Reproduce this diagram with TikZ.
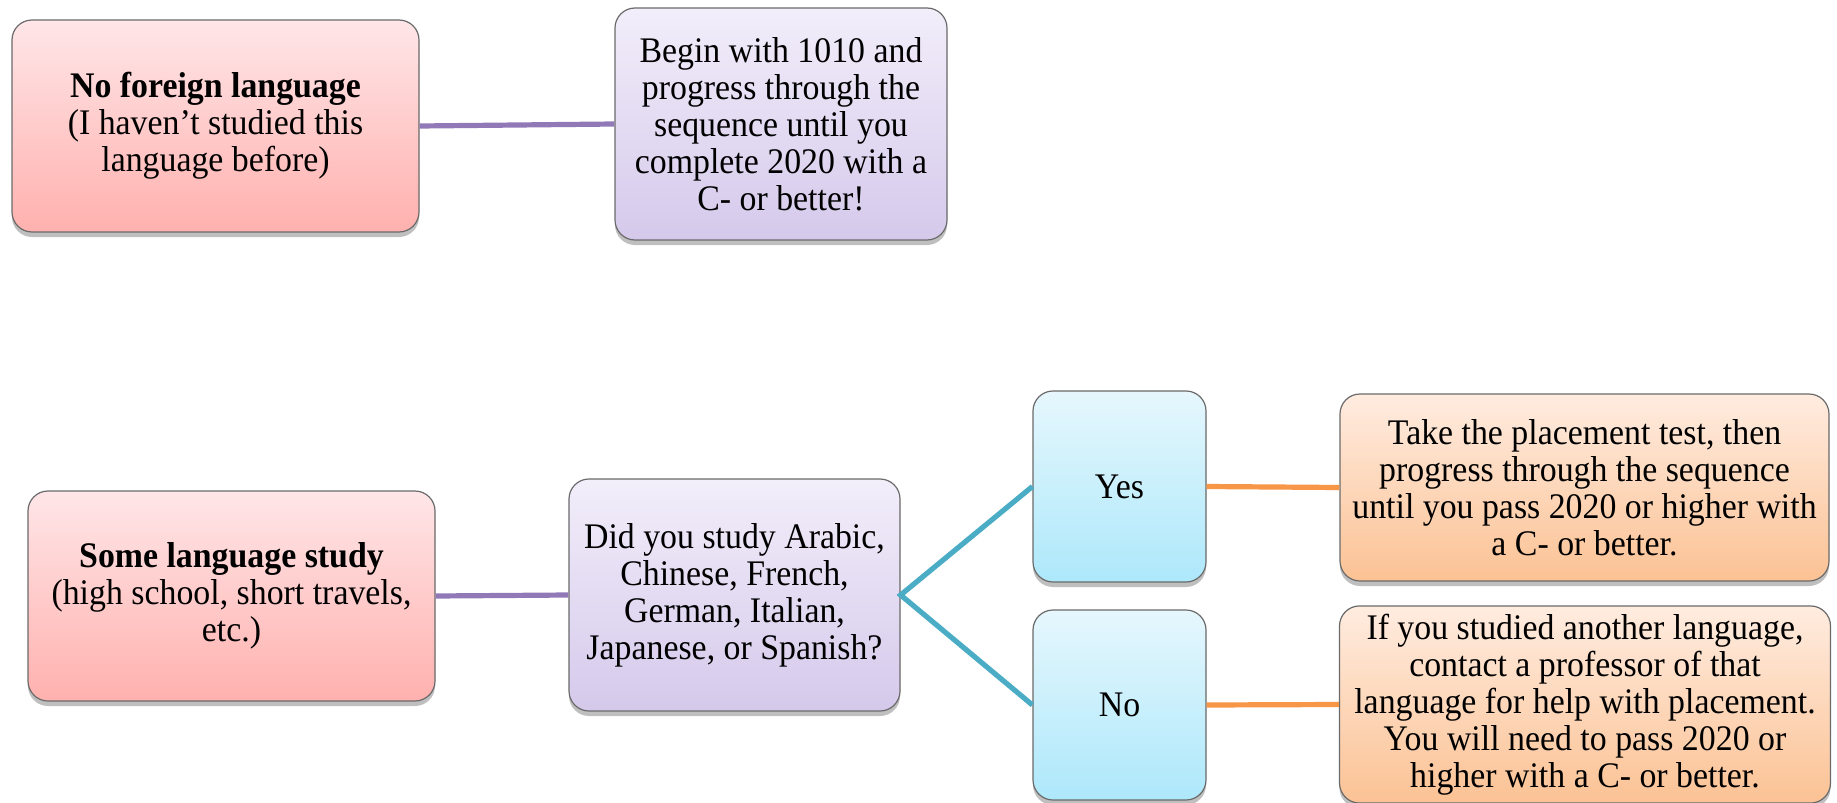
\documentclass[tikz,border=0pt]{standalone}
\usepackage{fontspec}
\setmainfont{Liberation Serif}[FakeStretch=0.94]
\usepackage{tikz}
\usetikzlibrary{shadows,positioning}
\definecolor{pinktop}{HTML}{FFE6E8}
\definecolor{pinkbot}{HTML}{FFB1AE}
\definecolor{liltop}{HTML}{F2EEFA}
\definecolor{lilbot}{HTML}{D5C9EB}
\definecolor{bluetop}{HTML}{E6F7FD}
\definecolor{bluebot}{HTML}{ADE8FB}
\definecolor{orgtop}{HTML}{FFECE0}
\definecolor{orgbot}{HTML}{FBC294}
\definecolor{edge}{HTML}{6A6A6A}
\definecolor{purp}{HTML}{9079B6}
\definecolor{teal}{HTML}{4BACC6}
\definecolor{orng}{HTML}{F79646}
\tikzset{
  box/.style={draw=edge, line width=0.6pt, rounded corners=10pt, align=center,
    font=\fontsize{18}{18.5}\selectfont, inner sep=4pt,
    drop shadow={shadow xshift=0pt, shadow yshift=-2.5pt, opacity=.25, fill=black}},
  pinkbox/.style={box, top color=pinktop, bottom color=pinkbot},
  lilbox/.style={box, top color=liltop, bottom color=lilbot},
  bluebox/.style={box, top color=bluetop, bottom color=bluebot},
  orgbox/.style={box, top color=orgtop, bottom color=orgbot},
  plink/.style={draw=purp, line width=2.6pt},
  tlink/.style={draw=teal, line width=2.6pt},
  olink/.style={draw=orng, line width=2.6pt},
}
\begin{document}
\begin{tikzpicture}[x=0.5pt,y=-0.5pt]
\useasboundingbox (0,0) rectangle (1837,803);
% top row
\node[pinkbox, minimum width=203.5pt, minimum height=106pt] (nofl) at (215.5,126)
  {\textbf{No foreign language}\\(I haven’t studied this\\language before)};
\node[lilbox, minimum width=166pt, minimum height=116pt] (begin) at (781,124)
  {Begin with 1010 and\\progress through the\\sequence until you\\complete 2020 with a\\C- or better!};
% bottom row
\node[pinkbox, minimum width=203.5pt, minimum height=105pt] (some) at (231.5,596)
  {\textbf{Some language study}\\(high school, short travels,\\etc.)};
\node[lilbox, minimum width=165.5pt, minimum height=116pt] (didq) at (734.5,595)
  {Did you study Arabic,\\Chinese, French,\\German, Italian,\\Japanese, or Spanish?};
\node[bluebox, minimum width=86.5pt, minimum height=95.5pt] (yes) at (1119.5,486.5) {Yes};
\node[bluebox, minimum width=86.5pt, minimum height=95pt] (no) at (1119.5,705) {No};
\node[orgbox, minimum width=244.5pt, minimum height=93.5pt] (take) at (1584.5,487.5)
  {Take the placement test, then\\progress through the sequence\\until you pass 2020 or higher with\\a C- or better.};
\node[orgbox, minimum width=245.5pt, minimum height=96.5pt] (other) at (1585,704.5)
  {If you studied another language,\\contact a professor of that\\language for help with placement.\\You will need to pass 2020 or\\higher with a C- or better.};
% connectors
\draw[plink] (nofl.east) -- (begin.west);
\draw[plink] (some.east) -- (didq.west);
\draw[tlink] (yes.west) -- (didq.east) -- (no.west);
\draw[olink] (yes.east) -- (take.west);
\draw[olink] (no.east) -- (other.west);
\end{tikzpicture}
\end{document}
